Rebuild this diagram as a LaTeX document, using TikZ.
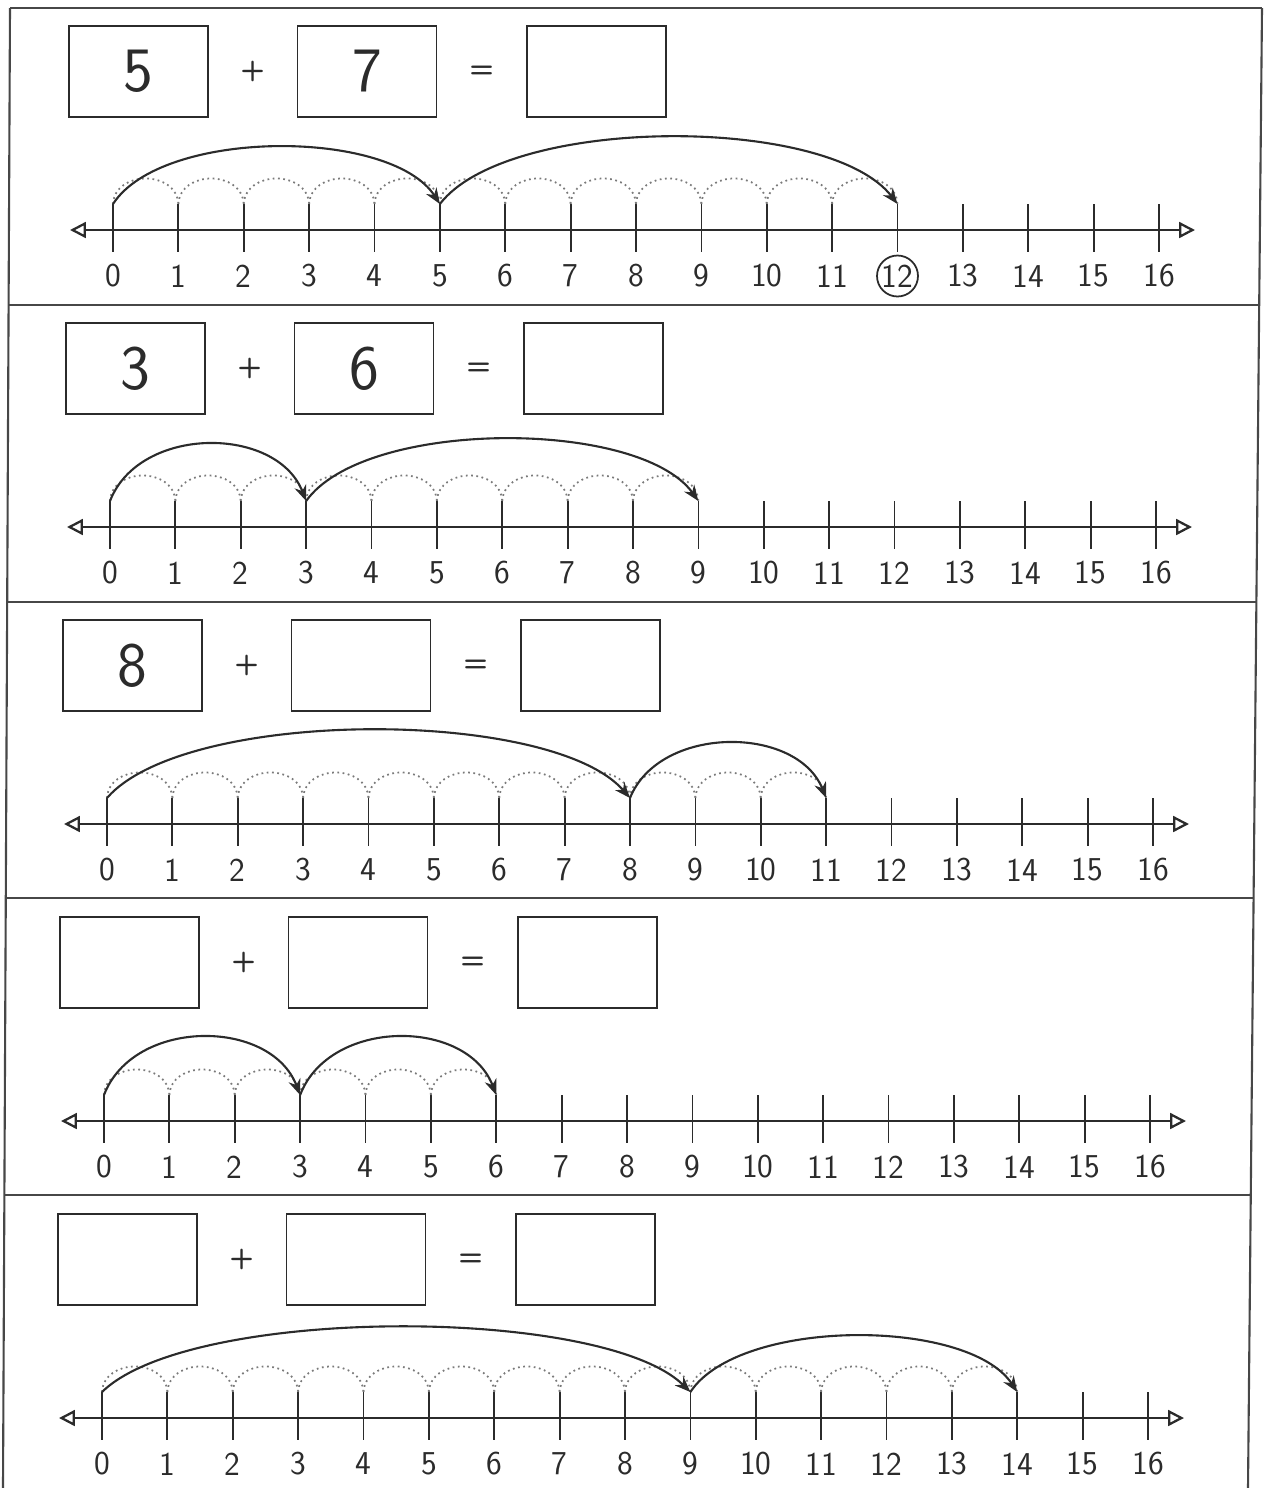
\documentclass[tikz,border=0pt]{standalone}
\usepackage{xcolor}
\usepackage{tikz}
\definecolor{ink}{HTML}{2b2b2b}
\definecolor{hopgray}{HTML}{7a7a7a}
\definecolor{framegray}{HTML}{474747}
\usetikzlibrary{arrows.meta, positioning, calc}

\begin{document}
\begin{tikzpicture}[
    x=0.02cm, y=-0.02cm,
    numbox/.style={draw=ink, line width=1pt, minimum width=2.78cm, minimum height=1.82cm, inner sep=0pt, text=ink, font=\sffamily\fontsize{36}{36}\selectfont},
    sign/.style={text=ink, inner sep=0pt, font=\sffamily\bfseries\fontsize{16}{16}\selectfont},
    num/.style={text=ink, inner sep=0pt, font=\sffamily\fontsize{19}{19}\selectfont},
    tickmark/.style={draw=ink, line width=1pt},
    numline/.style={draw=ink, line width=1.3pt, {Triangle[open, length=9pt, width=9pt]}-{Triangle[open, length=9pt, width=9pt]}},
    hop/.style={draw=hopgray, dotted, line width=1pt},
    jump/.style={draw=ink, line width=1.2pt, -{Stealth[length=9pt, width=7pt]}},
    frame/.style={draw=framegray, line width=1.2pt}
]
    \useasboundingbox (0,0) rectangle (1265,1488);

    % Frame
    \coordinate (tl) at (10,8);
    \coordinate (tr) at (1262,8);
    \coordinate (bl) at (3,1488);
    \coordinate (br) at (1248,1488);
    \draw[frame] (tl) -- (tr);
    \draw[frame] (tl) -- (bl);
    \draw[frame] (tr) -- (br);
    \foreach \y/\l/\r in {305/8.6/1259.2, 602/7.2/1256.4, 898/5.8/1253.6, 1195/4.4/1250.8}
        \draw[frame] (\l,\y) -- (\r,\y);

    % Panels
    \foreach \k/\dx/\a/\s/\ha/\hb/\ta/\tb in {
        1/0/5/12/57/67/5/7,
        2/-3/3/9/57/62/3/6,
        3/-6/8/11/68/55/8/{},
        4/-9/3/6/58/58/{}/{},
        5/-11/9/14/65/56/{}/{}} {
        \pgfmathsetmacro\ty{8+297*(\k-1)}
        \begin{scope}[shift={(\dx,\ty)}]
            % Equation
            \node[numbox] (x\k) at (138.5,63.5) {\ta};
            \node[numbox] (y\k) at (367,63.5) {\tb};
            \node[numbox] (z\k) at (596.5,63.5) {};
            \node[sign] (p\k) at ($(x\k.east)!0.5!(y\k.west)$) {+};
            \node[sign] (e\k) at ($(y\k.east)!0.5!(z\k.west)$) {=};

            % Number line
            \coordinate (w\k) at (70,222);
            \coordinate (v\k) at (1195,222);
            \draw[numline] (w\k) -- (v\k);
            \foreach \n in {0,...,16} {
                \coordinate (f\k-\n) at (113+65.375*\n,196);
                \draw[tickmark] (f\k-\n) -- ++(0,48);
                \node[num] (l\k-\n) at (113+65.375*\n,268) {\n};
            }

            % Hops of one
            \foreach \n in {1,...,\s} {
                \pgfmathtruncatemacro\m{\n-1}
                \draw[hop] (f\k-\m) .. controls +(2,-34) and +(-2,-34) .. (f\k-\n);
            }

            % Jumps
            \pgfmathsetmacro\ca{65.375*\a*0.15}
            \pgfmathsetmacro\va{-1.33*\ha}
            \pgfmathsetmacro\cb{65.375*(\s-\a)*0.15}
            \pgfmathsetmacro\vb{-1.33*\hb}
            \draw[jump] (f\k-0) .. controls +(\ca,\va) and +(-\ca,\va) .. (f\k-\a);
            \draw[jump] (f\k-\a) .. controls +(\cb,\vb) and +(-\cb,\vb) .. (f\k-\s);
        \end{scope}
    }

    % Answer
    \draw[draw=ink, line width=1pt] (l1-12) circle (0.41cm);
\end{tikzpicture}
\end{document}
